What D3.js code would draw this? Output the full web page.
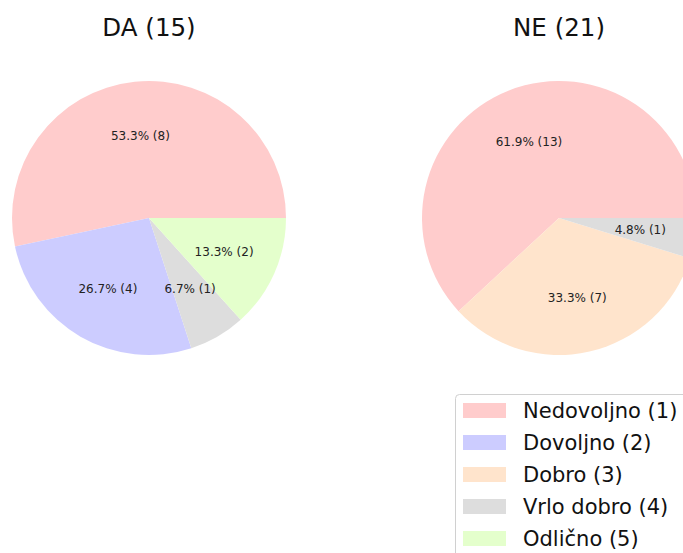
<!DOCTYPE html>
<html>
<head>
<meta charset="utf-8">
<script src="https://cdn.jsdelivr.net/npm/d3@7"></script>
<style>
  body { margin: 0; background: #fff; }
  svg { display: block; font-family: "DejaVu Sans", sans-serif; }
</style>
</head>
<body>
<div id="chart"></div>
<script>
// grade categories and colours
var grades = ["Nedovoljno (1)", "Dovoljno (2)", "Dobro (3)", "Vrlo dobro (4)", "Odlično (5)"];
var gradeColors = ["#ffcccc", "#ccccff", "#ffe4cc", "#dddddd", "#e4ffcc"];

// counts per group
var groupNames = ["DA", "NE"];
var daCounts = [8, 4, 0, 1, 2];
var neCounts = [13, 0, 7, 1, 0];

var width = 683, height = 553;
var radius = 137;

var svg = d3.select("#chart").append("svg")
    .attr("width", width)
    .attr("height", height);

var color = d3.scaleOrdinal().domain(grades).range(gradeColors);

// matplotlib style: start at 3 o'clock, go counter-clockwise
var pie = d3.pie()
    .sort(null)
    .value(function(d) { return d.count; })
    .startAngle(Math.PI / 2)
    .endAngle(Math.PI / 2 - 2 * Math.PI);

var arc = d3.arc().innerRadius(0).outerRadius(radius);
var labelArc = d3.arc().innerRadius(radius * 0.6).outerRadius(radius * 0.6);

function drawPie(name, counts, cx, cy) {
    var total = d3.sum(counts);
    var rows = grades.map(function(g, i) { return {grade: g, count: counts[i]}; });

    var g = svg.append("g").attr("transform", `translate(${cx},${cy})`);

    svg.append("text")
        .attr("x", cx)
        .attr("y", 36)
        .attr("text-anchor", "middle")
        .style("font-size", "24.5px")
        .style("fill", "#111")
        .text(`${name} (${total})`);

    var slices = pie(rows).filter(function(d) { return d.data.count > 0; });

    g.selectAll("path")
        .data(slices)
        .join("path")
        .attr("d", arc)
        .attr("fill", function(d) { return color(d.data.grade); });

    g.selectAll("text")
        .data(slices)
        .join("text")
        .attr("transform", function(d) { return `translate(${labelArc.centroid(d)})`; })
        .attr("text-anchor", "middle")
        .attr("dy", "0.35em")
        .style("font-size", "12px")
        .style("fill", "#222")
        .text(function(d) {
            return `${(d.data.count / total * 100).toFixed(1)}% (${d.data.count})`;
        });
}

drawPie(groupNames[0], daCounts, 149, 218);
drawPie(groupNames[1], neCounts, 559, 218);

// Legend
var legend = svg.append("g").attr("transform", "translate(455,394)");

legend.append("rect")
    .attr("x", 0.5)
    .attr("y", 0.5)
    .attr("width", 260)
    .attr("height", 200)
    .attr("rx", 4)
    .style("fill", "#fff")
    .style("fill-opacity", 0.8)
    .style("stroke", "#d0d0d0");

var items = legend.selectAll(".legend")
    .data(grades)
    .join("g")
    .attr("class", "legend")
    .attr("transform", function(d, i) { return `translate(8, ${9 + i * 32})`; });

items.append("rect")
    .attr("width", 43)
    .attr("height", 15)
    .style("fill", function(d) { return color(d); });

items.append("text")
    .attr("x", 60)
    .attr("y", 7.5)
    .attr("dy", "0.35em")
    .style("font-size", "21px")
    .style("fill", "#111")
    .text(function(d) { return d; });
</script>
</body>
</html>
